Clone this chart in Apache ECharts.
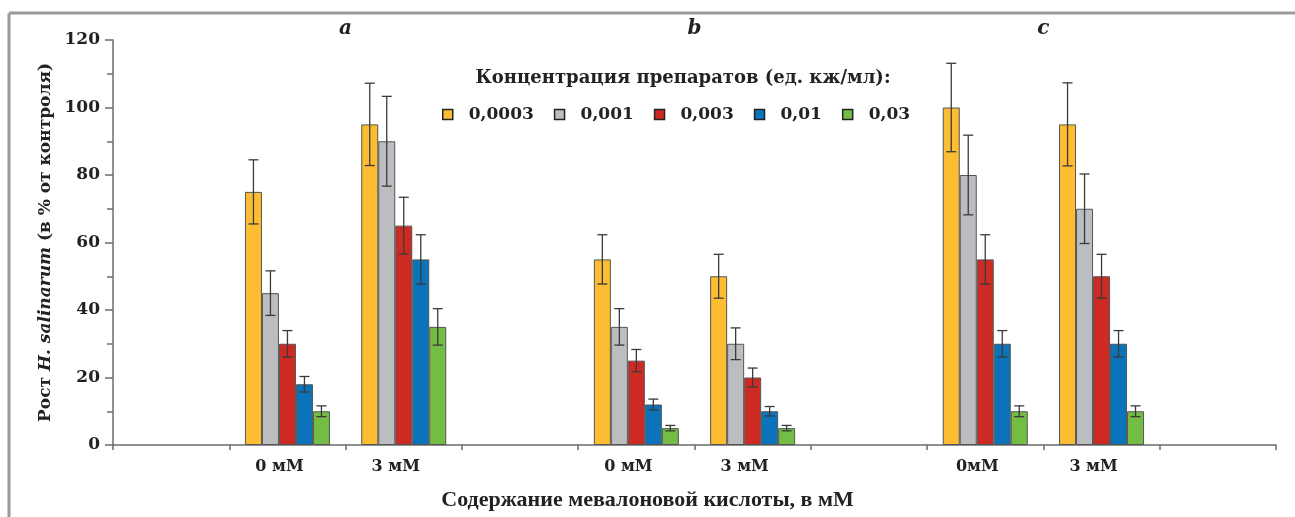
<!DOCTYPE html>
<html>
<head>
<meta charset="utf-8">
<script src="https://cdn.jsdelivr.net/npm/echarts@6/dist/echarts.min.js"></script>
<style>html,body{margin:0;padding:0;background:#fff}#c{width:1295px;height:517px}</style>
</head>
<body>
<div id="c"></div>
<script>
// ---- data ----
const categories = ['', '0 мМ', '3 мМ', '', '0 мМ', '3 мМ', '', '0мМ', '3 мМ', ''];
const panelLabels = ['a', 'b', 'c'];
const panelPairs = [[1, 2], [4, 5], [7, 8]];
const seriesNames = ['0,0003', '0,001', '0,003', '0,01', '0,03'];
const v0003 = [null, 75, 95, null, 55, 50, null, 100, 95, null];
const v001  = [null, 45, 90, null, 35, 30, null, 80, 70, null];
const v003  = [null, 30, 65, null, 25, 20, null, 55, 50, null];
const v01   = [null, 18, 55, null, 12, 10, null, 30, 30, null];
const v03   = [null, 10, 35, null, 5, 5, null, 10, 10, null];
const e0003 = [null, 9.5, 12.2, null, 7.3, 6.5, null, 13.1, 12.3, null];
const e001  = [null, 6.6, 13.3, null, 5.4, 4.7, null, 11.8, 10.3, null];
const e003  = [null, 3.9, 8.4, null, 3.3, 2.8, null, 7.3, 6.5, null];
const e01   = [null, 2.3, 7.3, null, 1.6, 1.4, null, 3.9, 3.9, null];
const e03   = [null, 1.6, 5.4, null, 0.8, 0.8, null, 1.6, 1.6, null];
const yTicks = [0, 20, 40, 60, 80, 100, 120];

const values = [v0003, v001, v003, v01, v03];
const errors = [e0003, e001, e003, e01, e03];
const colors = ['#FDBD33', '#BCBDC0', '#CE2A24', '#0B73BA', '#73BD44'];
const BW = 17;
const SERIF = '"DejaVu Serif", "Liberation Serif", serif';
const SERIF2 = '"Liberation Serif", "DejaVu Serif", serif';
const TXT = '#222';

const chart = echarts.init(document.getElementById('c'), null, {renderer: 'canvas'});

const series = [];
values.forEach((vals, i) => {
  series.push({
    name: seriesNames[i], type: 'bar', data: vals, barWidth: BW, barGap: '0%',
    itemStyle: {color: colors[i], borderColor: '#555', borderWidth: 1},
    emphasis: {disabled: true}
  });
});
values.forEach((vals, i) => {
  const data = [];
  vals.forEach((v, k) => { if (v != null) data.push([k, v - errors[i][k], v + errors[i][k]]); });
  series.push({
    type: 'custom', z: 5, silent: true,
    renderItem: function (params, api) {
      const k = api.value(0);
      const lo = api.coord([k, api.value(1)]);
      const hi = api.coord([k, api.value(2)]);
      const x = lo[0] + (i - 2) * BW;
      const cap = 5;
      const st = {stroke: '#3a3a3a', lineWidth: 1.3};
      return {type: 'group', children: [
        {type: 'line', shape: {x1: x, y1: hi[1], x2: x, y2: lo[1]}, style: st},
        {type: 'line', shape: {x1: x - cap, y1: hi[1], x2: x + cap, y2: hi[1]}, style: st},
        {type: 'line', shape: {x1: x - cap, y1: lo[1], x2: x + cap, y2: lo[1]}, style: st}
      ]};
    },
    encode: {x: 0, y: [1, 2]},
    data: data
  });
});

chart.setOption({
  animation: false,
  textStyle: {fontFamily: SERIF},
  grid: {left: 113, right: 19, top: 40, bottom: 72},
  title: {
    text: 'Концентрация препаратов (ед. кж/мл):',
    left: 678, top: 64, textAlign: 'center',
    textStyle: {fontFamily: SERIF, fontWeight: 'bold', fontSize: 18, color: TXT}
  },
  legend: {
    data: seriesNames, left: 437, top: 101, itemWidth: 10, itemHeight: 10, itemGap: 20,
    icon: 'rect',
    itemStyle: {borderColor: '#222', borderWidth: 1.5},
    textStyle: {fontFamily: SERIF, fontWeight: 'bold', fontSize: 17, color: TXT, padding: [0, 0, 0, 11]}
  },
  xAxis: {
    type: 'category', data: categories,
    axisLine: {lineStyle: {color: '#6b6b6b', width: 1.5}},
    axisTick: {show: true, length: 5, lineStyle: {color: '#6b6b6b', width: 1.5}},
    axisLabel: {fontFamily: SERIF, fontWeight: 'bold', fontSize: 16, color: TXT, margin: 14, padding: [0, 16, 0, 0], interval: 0},
    name: 'Содержание мевалоновой кислоты, в мМ',
    nameLocation: 'middle', nameGap: 44,
    nameTextStyle: {fontFamily: SERIF2, fontWeight: 'bold', fontSize: 22, color: TXT, padding: [0, 94, 0, 0]}
  },
  yAxis: {
    type: 'value', min: 0, max: 120, interval: 20,
    axisLine: {show: true, lineStyle: {color: '#6b6b6b', width: 1.5}},
    axisTick: {show: true, length: 8, lineStyle: {color: '#6b6b6b', width: 1.5}},
    minorTick: {show: true, splitNumber: 2, length: 6, lineStyle: {color: '#6b6b6b', width: 1.5}},
    splitLine: {show: false},
    axisLabel: {fontFamily: SERIF, fontWeight: 'bold', fontSize: 17, color: TXT, margin: 13,
      formatter: v => yTicks.indexOf(v) >= 0 ? String(v) : ''},
    name: '{n|Рост }{i|H. salinarum}{n| (в % от контроля)}',
    nameLocation: 'middle', nameGap: 58, nameRotate: 90,
    nameTextStyle: {
      rich: {
        n: {fontFamily: SERIF, fontWeight: 'bold', fontSize: 17, color: TXT},
        i: {fontFamily: SERIF, fontWeight: 'bold', fontStyle: 'italic', fontSize: 17, color: TXT}
      }
    }
  },
  series: series
});

// panel labels and frame
const gfx = [
  {type: 'line', shape: {x1: 9, y1: 13, x2: 1295, y2: 13}, style: {stroke: '#9a9a9a', lineWidth: 3}},
  {type: 'line', shape: {x1: 9, y1: 13, x2: 9, y2: 517}, style: {stroke: '#9a9a9a', lineWidth: 3}}
];
panelPairs.forEach((p, j) => {
  const x1 = chart.convertToPixel({xAxisIndex: 0}, p[0]);
  const x2 = chart.convertToPixel({xAxisIndex: 0}, p[1]);
  gfx.push({type: 'text', x: (x1 + x2) / 2, y: 29,
    style: {text: panelLabels[j], fontFamily: SERIF, fontWeight: 'bold', fontStyle: 'italic', fontSize: 20,
      fill: TXT, textAlign: 'center', textVerticalAlign: 'middle'}});
});
chart.setOption({graphic: gfx});
</script>
</body>
</html>
